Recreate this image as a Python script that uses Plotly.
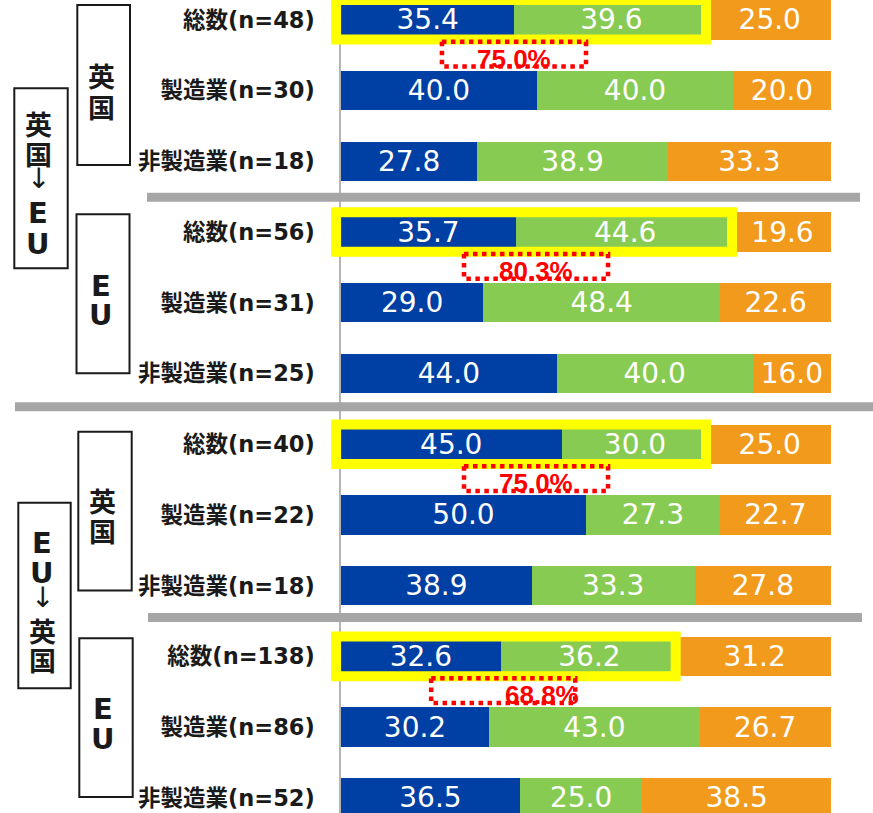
import plotly.graph_objects as go

# rows top -> bottom
labels = ["総数(n=48)", "製造業(n=30)", "非製造業(n=18)",
          "総数(n=56)", "製造業(n=31)", "非製造業(n=25)",
          "総数(n=40)", "製造業(n=22)", "非製造業(n=18)",
          "総数(n=138)", "製造業(n=86)", "非製造業(n=52)"]
blue = [35.4, 40.0, 27.8, 35.7, 29.0, 44.0, 45.0, 50.0, 38.9, 32.6, 30.2, 36.5]
green = [39.6, 40.0, 38.9, 44.6, 48.4, 40.0, 30.0, 27.3, 33.3, 36.2, 43.0, 25.0]
orange = [25.0, 20.0, 33.3, 19.6, 22.6, 16.0, 25.0, 22.7, 27.8, 31.2, 26.7, 38.5]

total_rows = [0, 3, 6, 9]          # 総数 rows that get the yellow frame
total_label_x = [35.3, 39.8, 39.8, 33.1]

COLORS = {"blue": "#003FA3", "green": "#88CB52", "orange": "#F29A1B",
          "yellow": "#FFFF00", "sep": "#A6A6A6", "red": "#FF0000"}

W, H = 873, 813
ML, MR = 341, 42
PW = W - ML - MR


def px(x):
    return (x - ML) / PW


def py(y):
    return 1 - y / H


rows = list(range(len(labels)))
fig = go.Figure()
for vals, col in [(blue, COLORS["blue"]), (green, COLORS["green"]), (orange, COLORS["orange"])]:
    fig.add_trace(go.Bar(
        y=rows, x=vals, orientation="h", width=0.557,
        marker=dict(color=col, line=dict(width=0)),
        texttemplate="%{x:.1f}", textposition="inside", insidetextanchor="middle",
        textangle=0, constraintext="none",
        textfont=dict(color="white", size=28, family="DejaVu Sans"),
        hoverinfo="skip", showlegend=False,
    ))

shapes = []
annotations = []

# yellow frames + red dotted totals
for r, lx in zip(total_rows, total_label_x):
    tot = blue[r] + green[r]
    shapes.append(dict(type="rect", xref="paper", yref="y",
                       x0=-0.01, x1=(tot - 0.5) / 100, y0=r - 0.28, y1=r + 0.28,
                       line=dict(color=COLORS["yellow"], width=10), layer="above"))
    annotations.append(dict(xref="paper", yref="y", x=lx / 100, y=r + 0.55,
                            text=f"{tot:.1f}%", showarrow=False,
                            font=dict(color=COLORS["red"], size=26,
                                      family="Liberation Sans", weight="bold")))
    shapes.append(dict(type="rect", xref="paper", yref="y",
                       x0=(lx - 14.7) / 100, x1=(lx + 14.7) / 100,
                       y0=r + 0.31, y1=r + 0.66,
                       line=dict(color=COLORS["red"], width=4.5, dash="dot"), layer="above"))

# grey separators
for yy, x0, x1 in [(2.51, 147, 860), (5.47, 15, 873), (8.45, 148, 862)]:
    shapes.append(dict(type="line", xref="paper", yref="y", x0=px(x0), x1=px(x1),
                       y0=yy, y1=yy, line=dict(color=COLORS["sep"], width=9)))

# group boxes with vertical text
groups = [
    ((14.3, 88.3, 67.7, 268.3), 38, ["英", "国", "↓", "E", "U"], [124, 153.5, 178, 213, 244]),
    ((77.3, 5, 130, 165), 101, ["英", "国"], [75.5, 106.5]),
    ((76.5, 214.3, 129.5, 373.3), 101, ["E", "U"], [286, 315]),
    ((18.3, 502.7, 70.7, 688.3), 42, ["E", "U", "↓", "英", "国"], [542.5, 573, 597, 630, 659]),
    ((78.3, 431.7, 131.7, 590.5), 102, ["英", "国"], [500.5, 530.5]),
    ((79.3, 638.3, 132.7, 797), 103, ["E", "U"], [709, 739]),
]
for (bx0, by0, bx1, by1), tx, chars, tys in groups:
    shapes.append(dict(type="rect", xref="paper", yref="paper",
                       x0=px(bx0), x1=px(bx1), y0=py(by1), y1=py(by0),
                       line=dict(color="#1a1a1a", width=2), fillcolor="white"))
    for ch, ty in zip(chars, tys):
        if ch == "↓":
            f = dict(size=28, family="DejaVu Sans", color="#1a1a1a")
        elif ch in "EU":
            f = dict(size=29, family="DejaVu Sans", color="#1a1a1a", weight="bold")
        else:
            f = dict(size=27, family="Noto Sans CJK JP", color="#1a1a1a", weight="bold")
        annotations.append(dict(xref="paper", yref="paper", x=px(tx), y=py(ty),
                                text=ch, showarrow=False, font=f,
                                xanchor="center", yanchor="middle"))

fig.update_layout(
    width=W, height=H, barmode="stack",
    margin=dict(l=ML, r=MR, t=0, b=0),
    paper_bgcolor="white", plot_bgcolor="white",
    xaxis=dict(range=[0, 100], visible=False, fixedrange=True),
    yaxis=dict(range=[11.214, -0.28], tickvals=rows, ticktext=labels,
               ticks="", ticklabelstandoff=20, showgrid=False, zeroline=False,
               showline=True, linecolor="#B4B4B4", linewidth=1.5, fixedrange=True,
               tickfont=dict(size=22.5, family="DejaVu Sans, Noto Sans CJK JP",
                             color="#1a1a1a", weight="bold")),
    shapes=shapes, annotations=annotations,
)

# drop the default 8px body margin so the figure sits at the page origin
fig.write_html("out.html", config={"displayModeBar": False},
               post_script="document.body.style.margin='0';")
